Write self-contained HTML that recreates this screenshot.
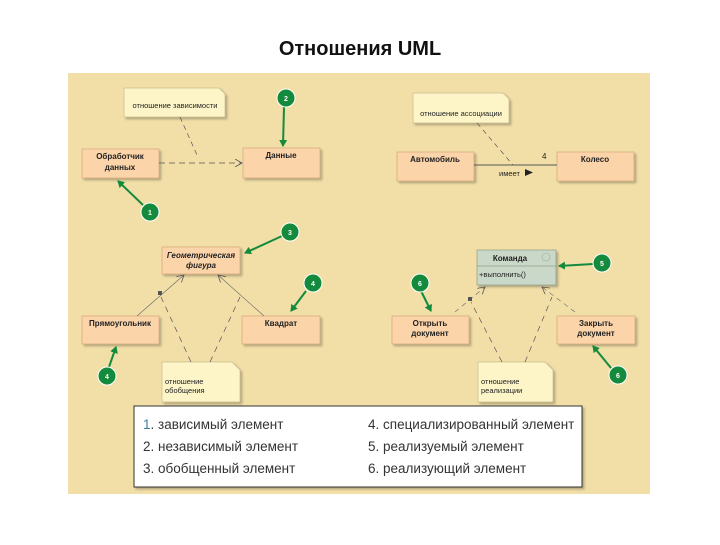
<!DOCTYPE html>
<html><head><meta charset="utf-8"><style>
body{margin:0;width:720px;height:540px;background:#fff;overflow:hidden;font-family:"Liberation Sans",sans-serif}
</style></head><body>
<svg width="720" height="540" xmlns="http://www.w3.org/2000/svg" font-family="Liberation Sans, sans-serif">
<defs>
<filter id="sh" x="-10%" y="-10%" width="130%" height="140%"><feDropShadow dx="2" dy="2" stdDeviation="1" flood-color="#000" flood-opacity="0.25"/></filter>
<marker id="ga" markerWidth="8" markerHeight="8" refX="6" refY="4" orient="auto" markerUnits="userSpaceOnUse"><path d="M0,0 L7,4 L0,8 z" fill="#138a3c"/></marker>
<marker id="oa" markerWidth="8" markerHeight="8" refX="7" refY="4" orient="auto" markerUnits="userSpaceOnUse"><path d="M0,0 L7,4 L0,8" fill="none" stroke="#555" stroke-width="0.8"/></marker>
</defs>
<text x="360" y="55" text-anchor="middle" font-size="20" font-weight="bold" fill="#111">Отношения UML</text>
<rect x="68" y="73" width="582" height="421" fill="#f2dfa8"/>
<g font-size="8" fill="#222" text-anchor="middle">
<!-- notes -->
<g filter="url(#sh)" fill="#fdf5c8" stroke="#c8bc8a" stroke-width="0.7">
<path d="M124,88 H219 L225,94 V117 H124 Z"/>
<path d="M413,93 H503 L509,99 V123 H413 Z"/>
<path d="M162,362 H232 L240,370 V402 H162 Z"/>
<path d="M478,362 H545 L553,370 V402 H478 Z"/>
</g>
<text x="175" y="108" font-size="7.5">отношение зависимости</text>
<text x="461" y="116" font-size="7.5">отношение ассоциации</text>
<text x="165" y="384" text-anchor="start" font-size="7.5">отношение</text>
<text x="165" y="393" text-anchor="start" font-size="7.5">обобщения</text>
<text x="481" y="384" text-anchor="start" font-size="7.5">отношение</text>
<text x="481" y="393" text-anchor="start" font-size="7.5">реализации</text>
<!-- boxes -->
<g filter="url(#sh)" fill="#fbd4aa" stroke="#d4a878" stroke-width="0.7">
<rect x="82" y="149" width="77" height="29"/>
<rect x="243" y="148" width="77" height="30"/>
<rect x="397" y="152" width="77" height="29"/>
<rect x="557" y="152" width="77" height="29"/>
<rect x="162" y="247" width="78" height="27"/>
<rect x="82" y="316" width="77" height="28"/>
<rect x="242" y="316" width="78" height="28"/>
<rect x="392" y="316" width="77" height="28"/>
<rect x="557" y="316" width="78" height="28"/>
<rect x="477" y="250" width="79" height="35" fill="#c9d8c8" stroke="#8aa08a"/>
</g>
<line x1="477" y1="266" x2="556" y2="266" stroke="#8aa08a" stroke-width="0.7"/>
<circle cx="546" cy="257" r="4" fill="none" stroke="#9ab09a" stroke-width="0.6"/>
<g font-weight="bold">
<text x="120" y="159">Обработчик</text><text x="120" y="170">данных</text>
<text x="281" y="158">Данные</text>
<text x="435" y="162">Автомобиль</text>
<text x="595" y="162">Колесо</text>
<text x="120" y="326">Прямоугольник</text>
<text x="281" y="326">Квадрат</text>
<text x="430" y="326">Открыть</text><text x="430" y="336">документ</text>
<text x="596" y="326">Закрыть</text><text x="596" y="336">документ</text>
<text x="510" y="261">Команда</text>
<text x="201" y="258" font-style="italic">Геометрическая</text><text x="201" y="268" font-style="italic">фигура</text>
</g>
<text x="479" y="277" text-anchor="start" font-size="7.5">+выполнить()</text>
<!-- connectors -->
<line x1="159" y1="163" x2="242" y2="163" stroke="#555" stroke-width="0.8" stroke-dasharray="6,4" marker-end="url(#oa)"/>
<line x1="180" y1="117" x2="197" y2="155" stroke="#555" stroke-width="0.7" stroke-dasharray="5,4"/>
<line x1="474" y1="165" x2="557" y2="165" stroke="#555" stroke-width="0.9"/>
<line x1="477" y1="123" x2="513" y2="165" stroke="#555" stroke-width="0.7" stroke-dasharray="5,4"/>
<text x="542" y="159" text-anchor="start" font-size="8">4</text>
<text x="499" y="176" text-anchor="start" font-size="7.5">имеет</text>
<path d="M525,169 L533,172.5 L525,176 z" fill="#222"/>
<line x1="137" y1="316" x2="184" y2="275" stroke="#666" stroke-width="0.6" marker-end="url(#oa)"/>
<line x1="264" y1="316" x2="218" y2="275" stroke="#666" stroke-width="0.6" marker-end="url(#oa)"/>
<rect x="158" y="291" width="4" height="4" fill="#555"/>
<line x1="191" y1="362" x2="161" y2="297" stroke="#555" stroke-width="0.7" stroke-dasharray="6,5"/>
<line x1="210" y1="362" x2="240" y2="297" stroke="#555" stroke-width="0.7" stroke-dasharray="6,5"/>
<line x1="455" y1="312" x2="485" y2="287" stroke="#666" stroke-width="0.6" stroke-dasharray="5,4" marker-end="url(#oa)"/>
<line x1="575" y1="312" x2="542" y2="287" stroke="#666" stroke-width="0.6" stroke-dasharray="5,4" marker-end="url(#oa)"/>
<rect x="468" y="297" width="4" height="4" fill="#555"/>
<line x1="502" y1="362" x2="471" y2="302" stroke="#555" stroke-width="0.7" stroke-dasharray="6,5"/>
<line x1="525" y1="362" x2="552" y2="297" stroke="#555" stroke-width="0.7" stroke-dasharray="6,5"/>
<!-- green callouts -->
<g stroke="#138a3c" stroke-width="2" marker-end="url(#ga)">
<line x1="284" y1="107" x2="283" y2="146"/>
<line x1="143" y1="205" x2="118" y2="181"/>
<line x1="282" y1="236" x2="245" y2="253"/>
<line x1="306" y1="291" x2="291" y2="311"/>
<line x1="109" y1="367" x2="116" y2="347"/>
<line x1="593" y1="264" x2="559" y2="266"/>
<line x1="421" y1="291" x2="431" y2="311"/>
<line x1="611" y1="368" x2="593" y2="346"/>
</g>
<g fill="#138a3c" stroke="#fff" stroke-width="1">
<circle cx="286" cy="98" r="9"/><circle cx="150" cy="212" r="9"/><circle cx="290" cy="232" r="9"/>
<circle cx="313" cy="283" r="9"/><circle cx="107" cy="376" r="9"/><circle cx="602" cy="263" r="9"/>
<circle cx="420" cy="283" r="9"/><circle cx="618" cy="375" r="9"/>
</g>
<g fill="#fff" font-size="7" font-weight="bold">
<text x="286" y="101">2</text><text x="150" y="215">1</text><text x="290" y="235">3</text>
<text x="313" y="286">4</text><text x="107" y="379">4</text><text x="602" y="266">5</text>
<text x="420" y="286">6</text><text x="618" y="378">6</text>
</g>
</g>
<!-- legend -->
<rect x="134" y="406" width="448" height="81" fill="#fff" stroke="#333" stroke-width="1" filter="url(#sh)"/>
<g font-size="13.5" fill="#333">
<text x="143" y="429"><tspan fill="#3a7fa0">1</tspan>. зависимый элемент</text>
<text x="143" y="451">2. независимый элемент</text>
<text x="143" y="473">3. обобщенный элемент</text>
<text x="368" y="429">4. специализированный элемент</text>
<text x="368" y="451">5. реализуемый элемент</text>
<text x="368" y="473">6. реализующий элемент</text>
</g>
</svg>
</body></html>
